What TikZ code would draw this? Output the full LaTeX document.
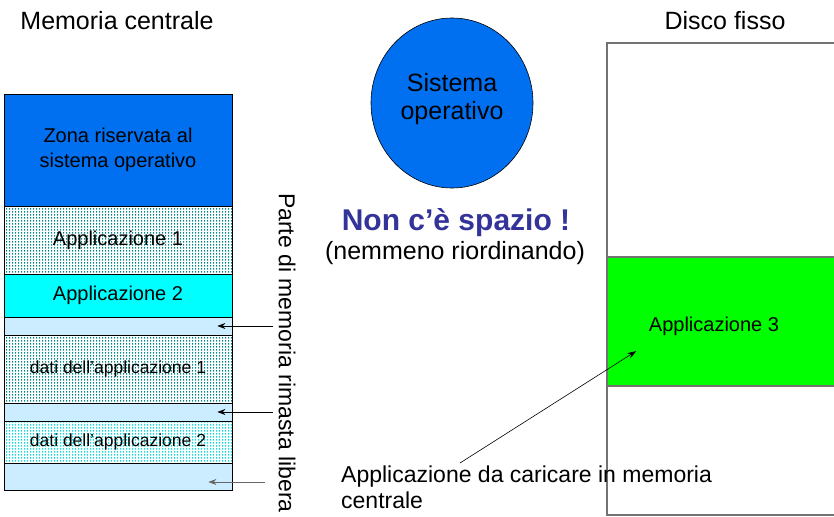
\documentclass[tikz,border=0pt]{standalone}
\usepackage{fontspec}
\setmainfont{Liberation Sans}
\usetikzlibrary{shapes.geometric,patterns.meta,arrows.meta}
\definecolor{osblue}{RGB}{0,112,240}
\definecolor{appcyan}{RGB}{0,255,255}
\definecolor{freeblue}{RGB}{204,236,255}
\definecolor{dotteal}{RGB}{0,135,135}
\definecolor{dotcyan}{RGB}{0,225,225}
\definecolor{navytext}{RGB}{51,51,153}
\definecolor{appgreen}{RGB}{0,255,0}
\tikzdeclarepattern{
  name=memdots,
  type=uncolored,
  bounding box={(0pt,0pt) and (3pt,3pt)},
  tile size={(3pt,3pt)},
  code={\fill (0pt,0.4pt) rectangle (1.4pt,2.6pt);}
}
\begin{document}
\begin{tikzpicture}[x=1pt,y=-1pt]
    \tikzstyle{block}=[draw, line width=0.8pt, minimum width=228pt, inner sep=0pt, align=center, font=\fontsize{20}{25}\selectfont]
    \tikzstyle{reserved}=[fill=osblue]
    \tikzstyle{used}=[preaction={fill=white}, pattern=memdots, pattern color=dotteal]
    \tikzstyle{usedb}=[preaction={fill=white}, pattern=memdots, pattern color=dotcyan]
    \tikzstyle{free}=[fill=freeblue]
    \tikzstyle{small}=[font=\fontsize{17.5}{21}\selectfont]
    \tikzstyle{title}=[anchor=base, inner sep=0pt, font=\fontsize{25}{30}\selectfont]
    \tikzstyle{freearrow}=[-{Stealth[length=8pt,width=6pt]}, line width=0.7pt]
    \tikzstyle{disk}=[draw=black!55, line width=1.4pt, minimum width=243pt, inner sep=0pt]

    \useasboundingbox (0,0) rectangle (834,516);
    \clip (0,0) rectangle (834,516);

    % memoria centrale
    \node[title] (memtitle) at (117,30) {Memoria centrale};
    \node[block, reserved, minimum height=112pt] (osz) at (118,150) {Zona riservata al\\sistema operativo};
    \node[block, used, minimum height=68pt] (app1) at (118,240) {Applicazione 1};
    \node[block, fill=appcyan, minimum height=43pt] (app2) at (118,295.5) {Applicazione 2};
    \node[block, free, minimum height=18pt] (free1) at (118,326) {};
    \node[block, used, small, minimum height=68pt] (dati1) at (118,369) {dati dell’applicazione 1};
    \node[block, free, minimum height=18pt] (free2) at (118,412) {};
    \node[block, usedb, small, minimum height=42pt] (dati2) at (118,442) {dati dell’applicazione 2};
    \node[block, free, minimum height=27pt] (free3) at (118,476.5) {};

    \node[rotate=-90, anchor=west, inner sep=0pt, font=\fontsize{23}{28}\selectfont] (freelbl) at (287,193) {Parte di memoria rimasta libera};
    \coordinate (f1) at (273,326);
    \coordinate (f2) at (273,412);
    \coordinate (f3) at (265,482);
    \path (f1) edge[freearrow] ([xshift=-15pt]free1.east);
    \path (f2) edge[freearrow] ([xshift=-15pt]free2.east);
    \path (f3) edge[freearrow, draw=black!60] ([xshift=-24pt,yshift=-5.5pt]free3.east);

    % sistema operativo
    \node[ellipse, draw, line width=0.6pt, fill=osblue, minimum width=162pt, minimum height=170pt] (sys) at (452,103) {};
    \node[align=center, inner sep=0pt, font=\fontsize{25}{28}\selectfont] (systxt) at (452,99) {Sistema\\operativo};
    \node[title, text=navytext, font=\bfseries\fontsize{30}{36}\selectfont] (nospace) at (456,230) {Non c’è spazio !};
    \node[title] (noorder) at (455,259) {(nemmeno riordinando)};

    % disco fisso
    \node[title] (disktitle) at (725,30) {Disco fisso};
    \node[disk, minimum height=472pt] (hdd) at (728.5,279) {};
    \node[disk, fill=appgreen, minimum height=129pt] (app3) at (728.5,321.5) {};
    \node[inner sep=0pt, font=\fontsize{20}{24}\selectfont] (app3txt) at (714,326) {Applicazione 3};

    \node[anchor=base west, align=left, inner sep=0pt, font=\fontsize{23}{26}\selectfont] (loadtxt) at (341,508) {Applicazione da caricare in memoria\\centrale};
    \coordinate (loadfrom) at (460,463);
    \path (loadfrom) edge[-{Stealth[length=9pt,width=6pt]}, line width=0.6pt] ([xshift=30pt,yshift=-29.5pt]app3.west);
\end{tikzpicture}
\end{document}
